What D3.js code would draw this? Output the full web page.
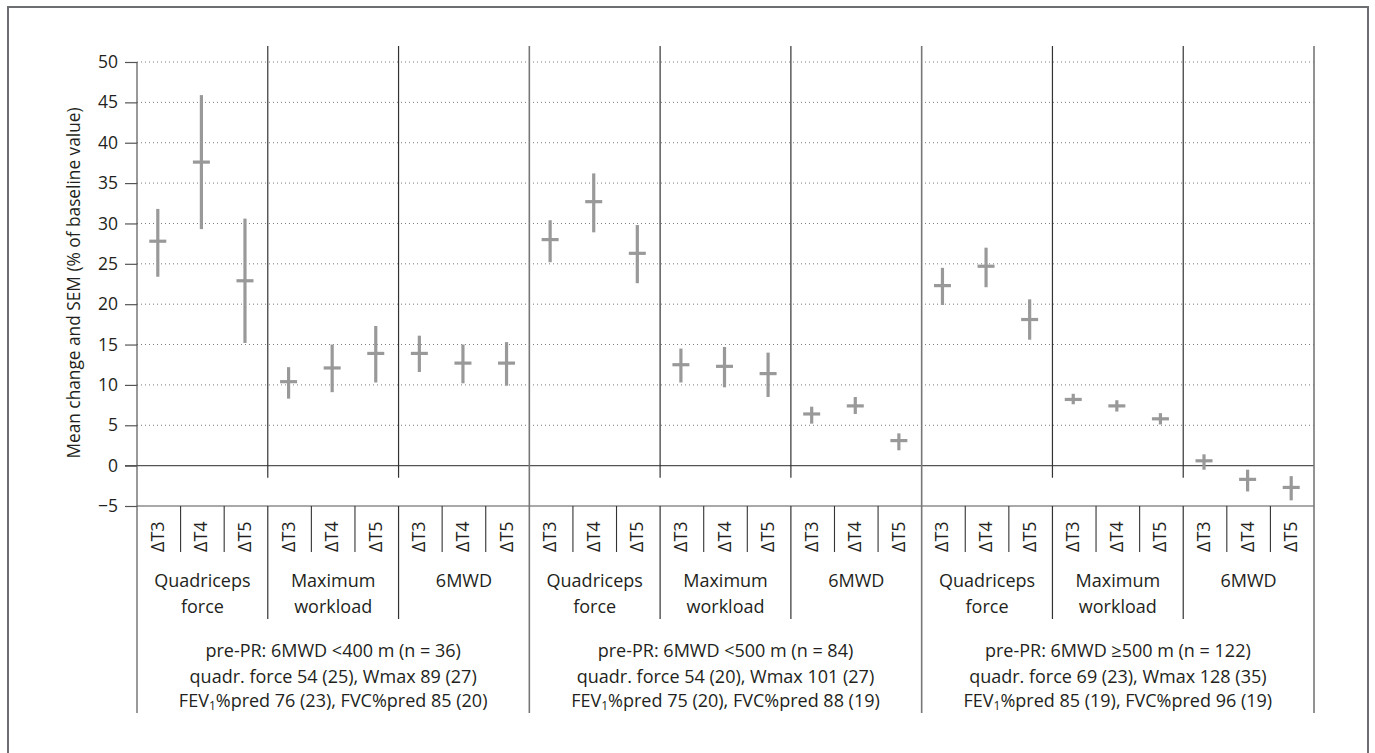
<!DOCTYPE html>
<html><head><meta charset="utf-8">
<script src="https://cdn.jsdelivr.net/npm/d3@7/dist/d3.min.js"></script>
<style>body{margin:0;background:#fff}svg{display:block}text{font-family:"Open Sans",sans-serif;fill:#231f20}</style>
</head><body>
<script>
// ---- data ----
const groupLines = [
  ["pre-PR: 6MWD <400 m (n = 36)", "quadr. force 54 (25), Wmax 89 (27)", ["FEV","1","%pred 76 (23), FVC%pred 85 (20)"]],
  ["pre-PR: 6MWD <500 m (n = 84)", "quadr. force 54 (20), Wmax 101 (27)", ["FEV","1","%pred 75 (20), FVC%pred 88 (19)"]],
  ["pre-PR: 6MWD \u2265500 m (n = 122)", "quadr. force 69 (23), Wmax 128 (35)", ["FEV","1","%pred 85 (19), FVC%pred 96 (19)"]]
];
const measures = [["Quadriceps","force"],["Maximum","workload"],["6MWD"]];
const timepoints = ["\u0394T3","\u0394T4","\u0394T5"];
const yTicks = [-5,0,5,10,15,20,25,30,35,40,45,50];
// values per column: group1 (QF T3..T5, MW T3..T5, 6MWD T3..T5), group2, group3
const meanVals = [27.8,37.6,22.9, 10.4,12.1,13.9, 13.9,12.7,12.7,
                  28.0,32.7,26.3, 12.5,12.3,11.4, 6.4,7.4,3.1,
                  22.3,24.7,18.1, 8.2,7.4,5.8, 0.6,-1.7,-2.7];
const lowVals  = [23.4,29.3,15.2, 8.3,9.1,10.3, 11.6,10.2,9.9,
                  25.2,28.9,22.6, 10.3,9.7,8.5, 5.2,6.4,1.9,
                  19.9,22.1,15.6, 7.6,6.7,5.1, -0.5,-3.2,-4.3];
const highVals = [31.8,45.9,30.6, 12.2,15.0,17.3, 16.1,15.0,15.3,
                  30.4,36.2,29.8, 14.5,14.7,14.0, 7.3,8.5,4.0,
                  24.5,27.0,20.6, 8.9,8.1,6.5, 1.4,-0.5,-1.3];

const W=1375,H=753;
const svg=d3.select("body").append("svg").attr("width",W).attr("height",H);
const L=137,R=1314;
const y=d3.scaleLinear().domain([-5,50]).range([506,62]);
const cols=d3.range(27);
const x=d3.scaleBand().domain(cols).range([L,R]);
const xc=d3.scaleBand().domain(d3.range(9)).range([L,R]);
const xg=d3.scaleBand().domain(d3.range(3)).range([L,R]);

// frame
svg.append("rect").attr("x",8).attr("y",7).attr("width",1360).attr("height",760)
  .attr("fill","none").attr("stroke","#6d6e71").attr("stroke-width",2);

// gridlines
svg.append("g").selectAll("line").data(yTicks.filter(d=>d>0)).join("line")
  .attr("x1",L).attr("x2",R).attr("y1",d=>y(d)).attr("y2",d=>y(d))
  .attr("stroke","#7a7a7a").attr("stroke-width",1).attr("stroke-dasharray","1,3");

// y axis
const yAxis=d3.axisLeft(y).tickValues(yTicks).tickSize(12).tickPadding(7)
  .tickFormat(d=>d<0?"\u2212"+Math.abs(d):d);
const ga=svg.append("g").attr("transform",`translate(${L},0)`).call(yAxis);
ga.select(".domain").remove();
ga.selectAll(".tick line").attr("stroke","#555").attr("stroke-width",1.2);
ga.selectAll(".tick text").attr("font-size",17.5).attr("fill","#231f20").style("font-family","'Open Sans',sans-serif");
svg.append("line").attr("x1",L).attr("x2",L).attr("y1",y(50)).attr("y2",713).attr("stroke","#555").attr("stroke-width",1.2);

// y label
svg.append("text").attr("transform",`translate(80,283) rotate(-90)`)
  .attr("text-anchor","middle").attr("font-size",17.3).text("Mean change and SEM (% of baseline value)");

// zero line and bottom line
svg.append("line").attr("x1",L-12).attr("x2",R).attr("y1",y(0)).attr("y2",y(0)).attr("stroke","#555").attr("stroke-width",1.2);
svg.append("line").attr("x1",L).attr("x2",R).attr("y1",y(-5)).attr("y2",y(-5)).attr("stroke","#555").attr("stroke-width",1.2);

// category separators (within groups)
const catSep=d3.range(9).filter(i=>i%3!==0);
svg.append("g").selectAll("line").data(catSep).join("line")
  .attr("x1",i=>xc(i)).attr("x2",i=>xc(i)).attr("y1",46).attr("y2",y(0)+12)
  .attr("stroke","#333").attr("stroke-width",1.2);
svg.append("g").selectAll("line").data(catSep).join("line")
  .attr("x1",i=>xc(i)).attr("x2",i=>xc(i)).attr("y1",y(-5)).attr("y2",619)
  .attr("stroke","#333").attr("stroke-width",1.2);
// group separators + right edge
svg.append("g").selectAll("line").data([1,2,3]).join("line")
  .attr("x1",i=>i<3?xg(i):R).attr("x2",i=>i<3?xg(i):R).attr("y1",46).attr("y2",713)
  .attr("stroke","#777").attr("stroke-width",1.6);
// subcolumn separators
svg.append("g").selectAll("line").data(cols.filter(i=>i%3!==0)).join("line")
  .attr("x1",i=>x(i)).attr("x2",i=>x(i)).attr("y1",y(-5)).attr("y2",552)
  .attr("stroke","#333").attr("stroke-width",1.1);

// error bars
const bw=x.bandwidth();
const gb=svg.append("g").attr("stroke","#999").attr("stroke-width",3.2);
gb.selectAll(".v").data(cols).join("line")
  .attr("x1",i=>x(i)+bw/2-1).attr("x2",i=>x(i)+bw/2-1)
  .attr("y1",i=>y(lowVals[i])).attr("y2",i=>y(highVals[i]));
gb.selectAll(".h").data(cols).join("line")
  .attr("x1",i=>x(i)+bw/2-9.5).attr("x2",i=>x(i)+bw/2+7.5)
  .attr("y1",i=>y(meanVals[i])).attr("y2",i=>y(meanVals[i]));

// timepoint labels
svg.append("g").selectAll("text").data(cols).join("text")
  .attr("transform",i=>`translate(${x(i)+bw/2+5},552) rotate(-90)`)
  .attr("font-size",18).text(i=>timepoints[i%3]);

// measure labels
svg.append("g").selectAll("text").data(d3.range(9)).join("text")
  .attr("text-anchor","middle").attr("font-size",18)
  .attr("x",i=>xc(i)+xc.bandwidth()/2).attr("y",587)
  .each(function(i){
    const t=d3.select(this);
    measures[i%3].forEach((s,k)=>t.append("tspan").attr("x",xc(i)+xc.bandwidth()/2).attr("dy",k?26:0).text(s));
  });

// group labels
const gl=svg.append("g").selectAll("text").data(d3.range(3)).join("text")
  .attr("text-anchor","middle").attr("font-size",18)
  .attr("x",g=>xg(g)+xg.bandwidth()/2);
gl.each(function(g){
  const t=d3.select(this), cx=xg(g)+xg.bandwidth()/2;
  t.append("tspan").attr("x",cx).attr("y",657).text(groupLines[g][0]);
  t.append("tspan").attr("x",cx).attr("y",682.5).text(groupLines[g][1]);
  const l3=groupLines[g][2];
  t.append("tspan").attr("x",cx).attr("y",707).text(l3[0]);
  t.append("tspan").attr("font-size",12).attr("dy",3).text(l3[1]);
  t.append("tspan").attr("dy",-3).text(l3[2]);
});
</script>
</body></html>
